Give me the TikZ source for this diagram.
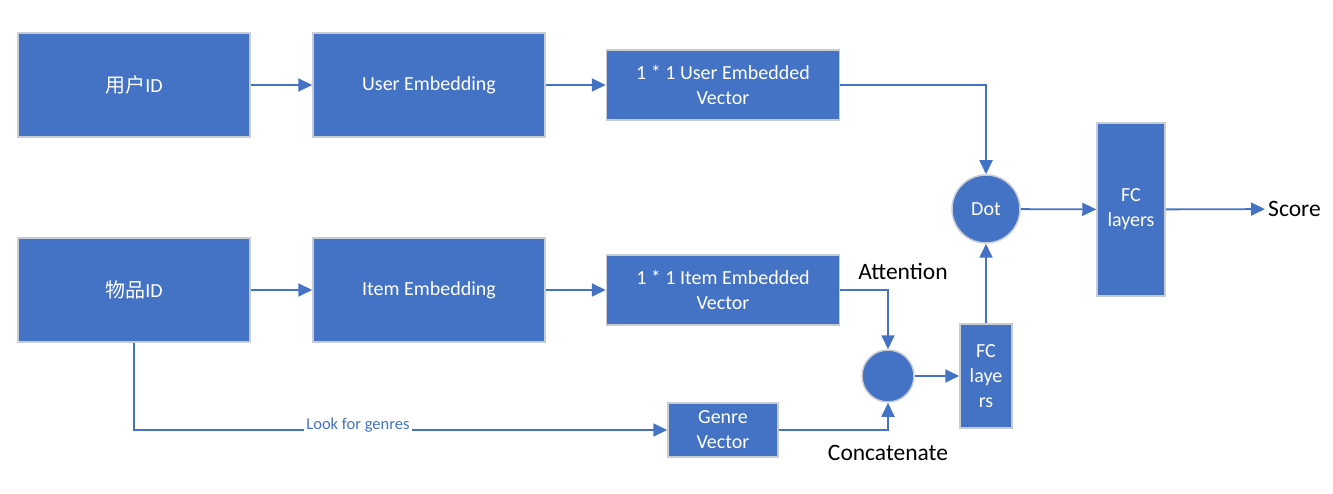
\documentclass[tikz,border=0pt]{standalone}
\usepackage{fontspec}
\setmainfont{Carlito}
\newfontfamily\cjk{Noto Sans CJK SC}
\usepackage{tikz}
\usetikzlibrary{arrows.meta,positioning,calc}
\definecolor{boxblue}{HTML}{4472C4}
\definecolor{boxedge}{HTML}{C8CCD4}

\begin{document}
\begin{tikzpicture}[x=1pt,y=-1pt,>={Triangle[length=14pt,width=13pt]},
blk/.style={rectangle, fill=boxblue, draw=boxedge, line width=1.5pt, text=white, align=center, inner sep=0pt, font=\fontsize{20}{25}\selectfont},
rnd/.style={circle, fill=boxblue, draw=boxedge, line width=1.5pt, text=white, inner sep=0pt, font=\fontsize{20}{25}\selectfont},
conn/.style={->, draw=boxblue, line width=1.8pt},
lbl/.style={font=\fontsize{23.5}{28}\selectfont, text=black}
]
\useasboundingbox (0,0) rectangle (1333,494);
% User branch
\node[blk, minimum width=232pt, minimum height=104pt] (uid) at (134,85) {{\cjk 用户}ID};
\node[blk, minimum width=232pt, minimum height=104pt] (uemb) at (429,85) {User Embedding};
\node[blk, minimum width=233pt, minimum height=70pt] (uvec) at (723,85) {1 * 1 User Embedded\\Vector};
% Item branch
\node[blk, minimum width=232pt, minimum height=104pt] (iid) at (134,290) {{\cjk 物品}ID};
\node[blk, minimum width=232pt, minimum height=104pt] (iemb) at (429,290) {Item Embedding};
\node[blk, minimum width=233pt, minimum height=70pt] (ivec) at (723,290) {1 * 1 Item Embedded\\Vector};
\node[blk, minimum width=110pt, minimum height=54pt] (genre) at (723,430) {Genre\\Vector};
% Merging
\node[rnd, minimum size=52pt] (att) at (888,376) {};
\node[blk, minimum width=52pt, minimum height=104pt] (fcs) at (986,376) {FC\\laye\\rs};
\node[rnd, minimum size=68pt] (dot) at (986,209) {Dot};
\node[blk, minimum width=68pt, minimum height=173pt] (fc) at (1131,209.5) {FC\\layers};
\node[lbl, anchor=west, inner sep=3pt] (score) at (1265,209) {Score};
\node[lbl] (attlbl) at (903,271) {Attention};
\node[lbl] (catlbl) at (888,453) {Concatenate};
% Connectors
\draw[conn] (uid) -- (uemb);
\draw[conn] (uemb) -- (uvec);
\draw[conn] (iid) -- (iemb);
\draw[conn] (iemb) -- (ivec);
\draw[conn] (uvec.east) -| (dot.north);
\draw[conn] (ivec.east) -| (att.north);
\draw[conn] (genre.east) -| (att.south);
\draw[conn] (att) -- (fcs);
\draw[conn] (fcs.north) -- (dot.south);
\draw[conn] (dot) -- (fc);
\draw[conn] (fc) -- (score);
\draw[conn] (iid.south) |- node[pos=0.71, yshift=5pt, fill=white, inner sep=2.5pt, text=boxblue, font=\fontsize{16.5}{19}\selectfont] {Look for genres} (genre.west);
\end{tikzpicture}
\end{document}
